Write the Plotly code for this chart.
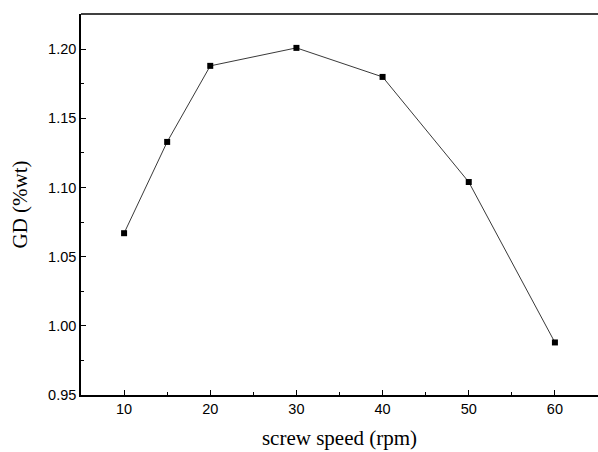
import plotly.graph_objects as go

screw_speed = [10, 15, 20, 30, 40, 50, 60]
gd = [1.067, 1.133, 1.188, 1.201, 1.180, 1.104, 0.988]
x_ticks = [10, 20, 30, 40, 50, 60]
y_ticks = [0.95, 1.00, 1.05, 1.10, 1.15, 1.20]

fig = go.Figure()
fig.add_trace(go.Scatter(
    x=screw_speed, y=gd, mode="lines+markers",
    line=dict(color="#222222", width=0.9),
    marker=dict(symbol="square", size=6, color="black"),
    showlegend=False,
))

fig.update_layout(
    width=598, height=452,
    margin=dict(l=81, r=0, t=14, b=57),
    plot_bgcolor="white", paper_bgcolor="white",
    font=dict(family="Liberation Sans, Arial", size=12, color="black"),
    shapes=[dict(type="line", xref="paper", yref="paper", x0=0, x1=1, y0=1, y1=1,
                 line=dict(color="black", width=1.5))],
)
fig.update_xaxes(
    range=[5, 65], tickvals=x_ticks, ticktext=[str(v) for v in x_ticks],
    ticks="inside", ticklen=5, tickwidth=1, tickcolor="black",
    minor=dict(dtick=5, ticks="inside", ticklen=3, tickcolor="black", tick0=5),
    showline=True, linecolor="black", linewidth=1.5, showgrid=False, zeroline=False,
    tickfont=dict(size=14.5),
    title=dict(text="screw speed (rpm)", font=dict(family="Liberation Serif, Times New Roman", size=21), standoff=14),
)
fig.update_yaxes(
    range=[0.95, 1.2255], tickvals=y_ticks, ticktext=[f"{v:.2f}" for v in y_ticks],
    ticks="inside", ticklen=5, tickwidth=1, tickcolor="black",
    minor=dict(dtick=0.025, tick0=0.95, ticks="inside", ticklen=3, tickcolor="black"),
    showline=True, linecolor="black", linewidth=1.5, showgrid=False, zeroline=False,
    tickfont=dict(size=14.5),
    title=dict(text="GD (%wt)", font=dict(family="Liberation Serif, Times New Roman", size=21), standoff=15),
)

fig.write_html("out.html")
